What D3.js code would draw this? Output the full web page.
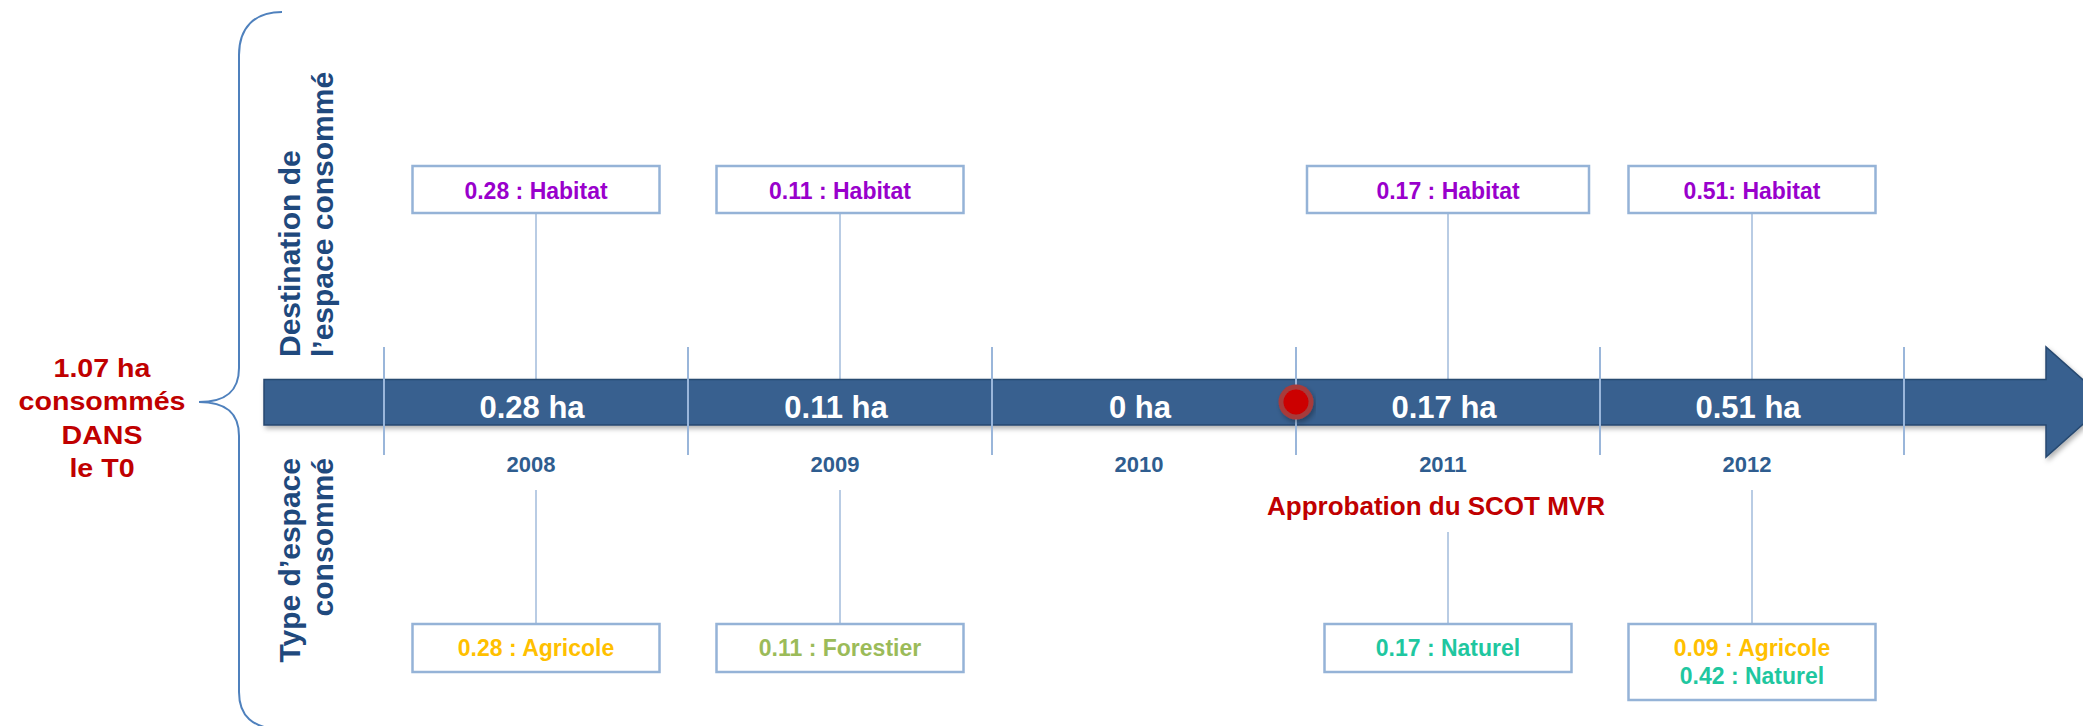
<!DOCTYPE html>
<html>
<head>
<meta charset="utf-8">
<script src="https://cdn.jsdelivr.net/npm/d3@7"></script>
<style>
  body { margin: 0; background: #fff; }
  svg text { font-family: "Liberation Sans", Arial, sans-serif; font-weight: bold; }
</style>
</head>
<body>
<div id="chart"></div>
<script>
// data
var years = ["2008", "2009", "2010", "2011", "2012"];
var surfaces = [0.28, 0.11, 0, 0.17, 0.51];
var destinationLabels = ["0.28 : Habitat", "0.11 : Habitat", null, "0.17 : Habitat", "0.51: Habitat"];
var typeLabels = [["0.28 : Agricole"], ["0.11 : Forestier"], [], ["0.17 : Naturel"], ["0.09 : Agricole", "0.42 : Naturel"]];
var categories = ["Habitat", "Agricole", "Forestier", "Naturel"];
var totalLines = ["1.07 ha", "consommés", "DANS", "le T0"];
var topTitle = ["Destination de", "l\u2019espace consommé"];
var bottomTitle = ["Type d\u2019espace", "consommé"];
var milestoneAfter = "2010";
var milestoneLabel = "Approbation du SCOT MVR";

var W = 2083, H = 726;
var barTop = 379.5, barBot = 425, barMid = 402;

var color = d3.scaleOrdinal().domain(categories).range(["#9900cc", "#ffc000", "#9bbb59", "#1fc7a0"]);
var catOf = function(s) { return categories.find(c => s.indexOf(c) >= 0); };

var x = d3.scaleBand().domain(years).range([384, 1904]).padding(0);
var cx = d => x(d) + x.bandwidth() / 2;

var svg = d3.select("#chart").append("svg").attr("width", W).attr("height", H);

var defs = svg.append("defs");
var f = defs.append("filter").attr("id", "shadow").attr("x", "-5%").attr("y", "-30%").attr("width", "110%").attr("height", "160%");
f.append("feDropShadow").attr("dx", 2).attr("dy", 3).attr("stdDeviation", 2.5).attr("flood-color", "#000").attr("flood-opacity", 0.3);

// brace
svg.append("path")
    .attr("d", "M282,12 C254,12 239,28 239,55 L239,368 C239,392 225,402 199,402 C225,402 239,412 239,436 L239,692 C239,716 252,728 282,730")
    .attr("fill", "none").attr("stroke", "#4f81bd").attr("stroke-width", 2);

// total on the left
var tot = svg.append("g").attr("transform", "translate(102,0) scale(1.1,1)");
tot.selectAll("text").data(totalLines).enter().append("text")
    .attr("x", 0).attr("y", (d, i) => 377 + i * 33.4)
    .attr("text-anchor", "middle").attr("font-size", 26).attr("fill", "#c00000")
    .text(d => d);

// side titles
svg.append("g").selectAll("text").data(topTitle).enter().append("text")
    .attr("transform", (d, i) => `translate(${300 + i * 33},357) rotate(-90)`)
    .attr("text-anchor", "start").attr("font-size", 30).attr("fill", "#1f497d")
    .text(d => d);
svg.append("g").selectAll("text").data(bottomTitle).enter().append("text")
    .attr("transform", (d, i) => `translate(${300 + i * 33},458) rotate(-90)`)
    .attr("text-anchor", "end").attr("font-size", 30).attr("fill", "#1f497d")
    .text(d => d);

// top connectors + boxes
var topW = function(i) { return i === 3 ? 282 : 247; };
years.forEach(function(y, i) {
    if (!destinationLabels[i]) return;
    var c = cx(y), w = topW(i);
    svg.append("line").attr("x1", c).attr("x2", c).attr("y1", 213).attr("y2", barTop)
        .attr("stroke", "#b9cce4").attr("stroke-width", 2);
    svg.append("rect").attr("x", c - w / 2).attr("y", 166).attr("width", w).attr("height", 47)
        .attr("fill", "#fff").attr("stroke", "#95b3d7").attr("stroke-width", 2.5);
    svg.append("text").attr("x", c).attr("y", 199).attr("text-anchor", "middle")
        .attr("font-size", 23).attr("fill", color(catOf(destinationLabels[i])))
        .text(destinationLabels[i]);
});

// bottom connectors + boxes
years.forEach(function(y, i) {
    var lines = typeLabels[i];
    if (!lines.length) return;
    var c = cx(y), w = 247, h = 48 + (lines.length - 1) * 28;
    var y0 = years[i - 1] === milestoneAfter ? 532 : 490;
    svg.append("line").attr("x1", c).attr("x2", c).attr("y1", y0).attr("y2", 624)
        .attr("stroke", "#b9cce4").attr("stroke-width", 2);
    svg.append("rect").attr("x", c - w / 2).attr("y", 624).attr("width", w).attr("height", h)
        .attr("fill", "#fff").attr("stroke", "#95b3d7").attr("stroke-width", 2.5);
    svg.append("g").selectAll("text").data(lines).enter().append("text")
        .attr("x", c).attr("y", (d, k) => 656 + k * 28).attr("text-anchor", "middle")
        .attr("font-size", 23).attr("fill", d => color(catOf(d)))
        .text(d => d);
});

// the arrow
var xEnd = 2046;
svg.append("path")
    .attr("d", `M264,${barTop} H${xEnd} V347 L2108,${barMid} L${xEnd},457 V${barBot} H264 Z`)
    .attr("fill", "#37608f").attr("stroke", "#284870").attr("stroke-width", 1.5)
    .attr("filter", "url(#shadow)");

// year boundaries
var bounds = years.map(y => x(y)).concat([x(years[years.length - 1]) + x.bandwidth()]);
svg.append("g").selectAll("line").data(bounds).enter().append("line")
    .attr("x1", d => d).attr("x2", d => d).attr("y1", 347).attr("y2", 455)
    .attr("stroke", "#9ab6da").attr("stroke-width", 2);

// values in the arrow
svg.append("g").selectAll("text").data(years).enter().append("text")
    .attr("x", d => cx(d) - 4).attr("y", 418).attr("text-anchor", "middle")
    .attr("font-size", 31).attr("fill", "#fff")
    .text((d, i) => surfaces[i] + " ha");

// year labels
svg.append("g").selectAll("text").data(years).enter().append("text")
    .attr("x", d => cx(d) - 5).attr("y", 472).attr("text-anchor", "middle")
    .attr("font-size", 22).attr("fill", "#2f5d8f")
    .text(d => d);

// milestone
var mx = x(milestoneAfter) + x.bandwidth();
var dot = svg.append("g").attr("filter", "url(#shadow)");
dot.append("circle").attr("cx", mx).attr("cy", barMid).attr("r", 17.5).attr("fill", "#a73a3a");
dot.append("circle").attr("cx", mx).attr("cy", barMid).attr("r", 12.5).attr("fill", "#cc0000");
svg.append("text").attr("x", cx(years[years.indexOf(milestoneAfter) + 1]) - 12).attr("y", 515)
    .attr("text-anchor", "middle").attr("font-size", 26).attr("fill", "#c00000")
    .text(milestoneLabel);
</script>
</body>
</html>
